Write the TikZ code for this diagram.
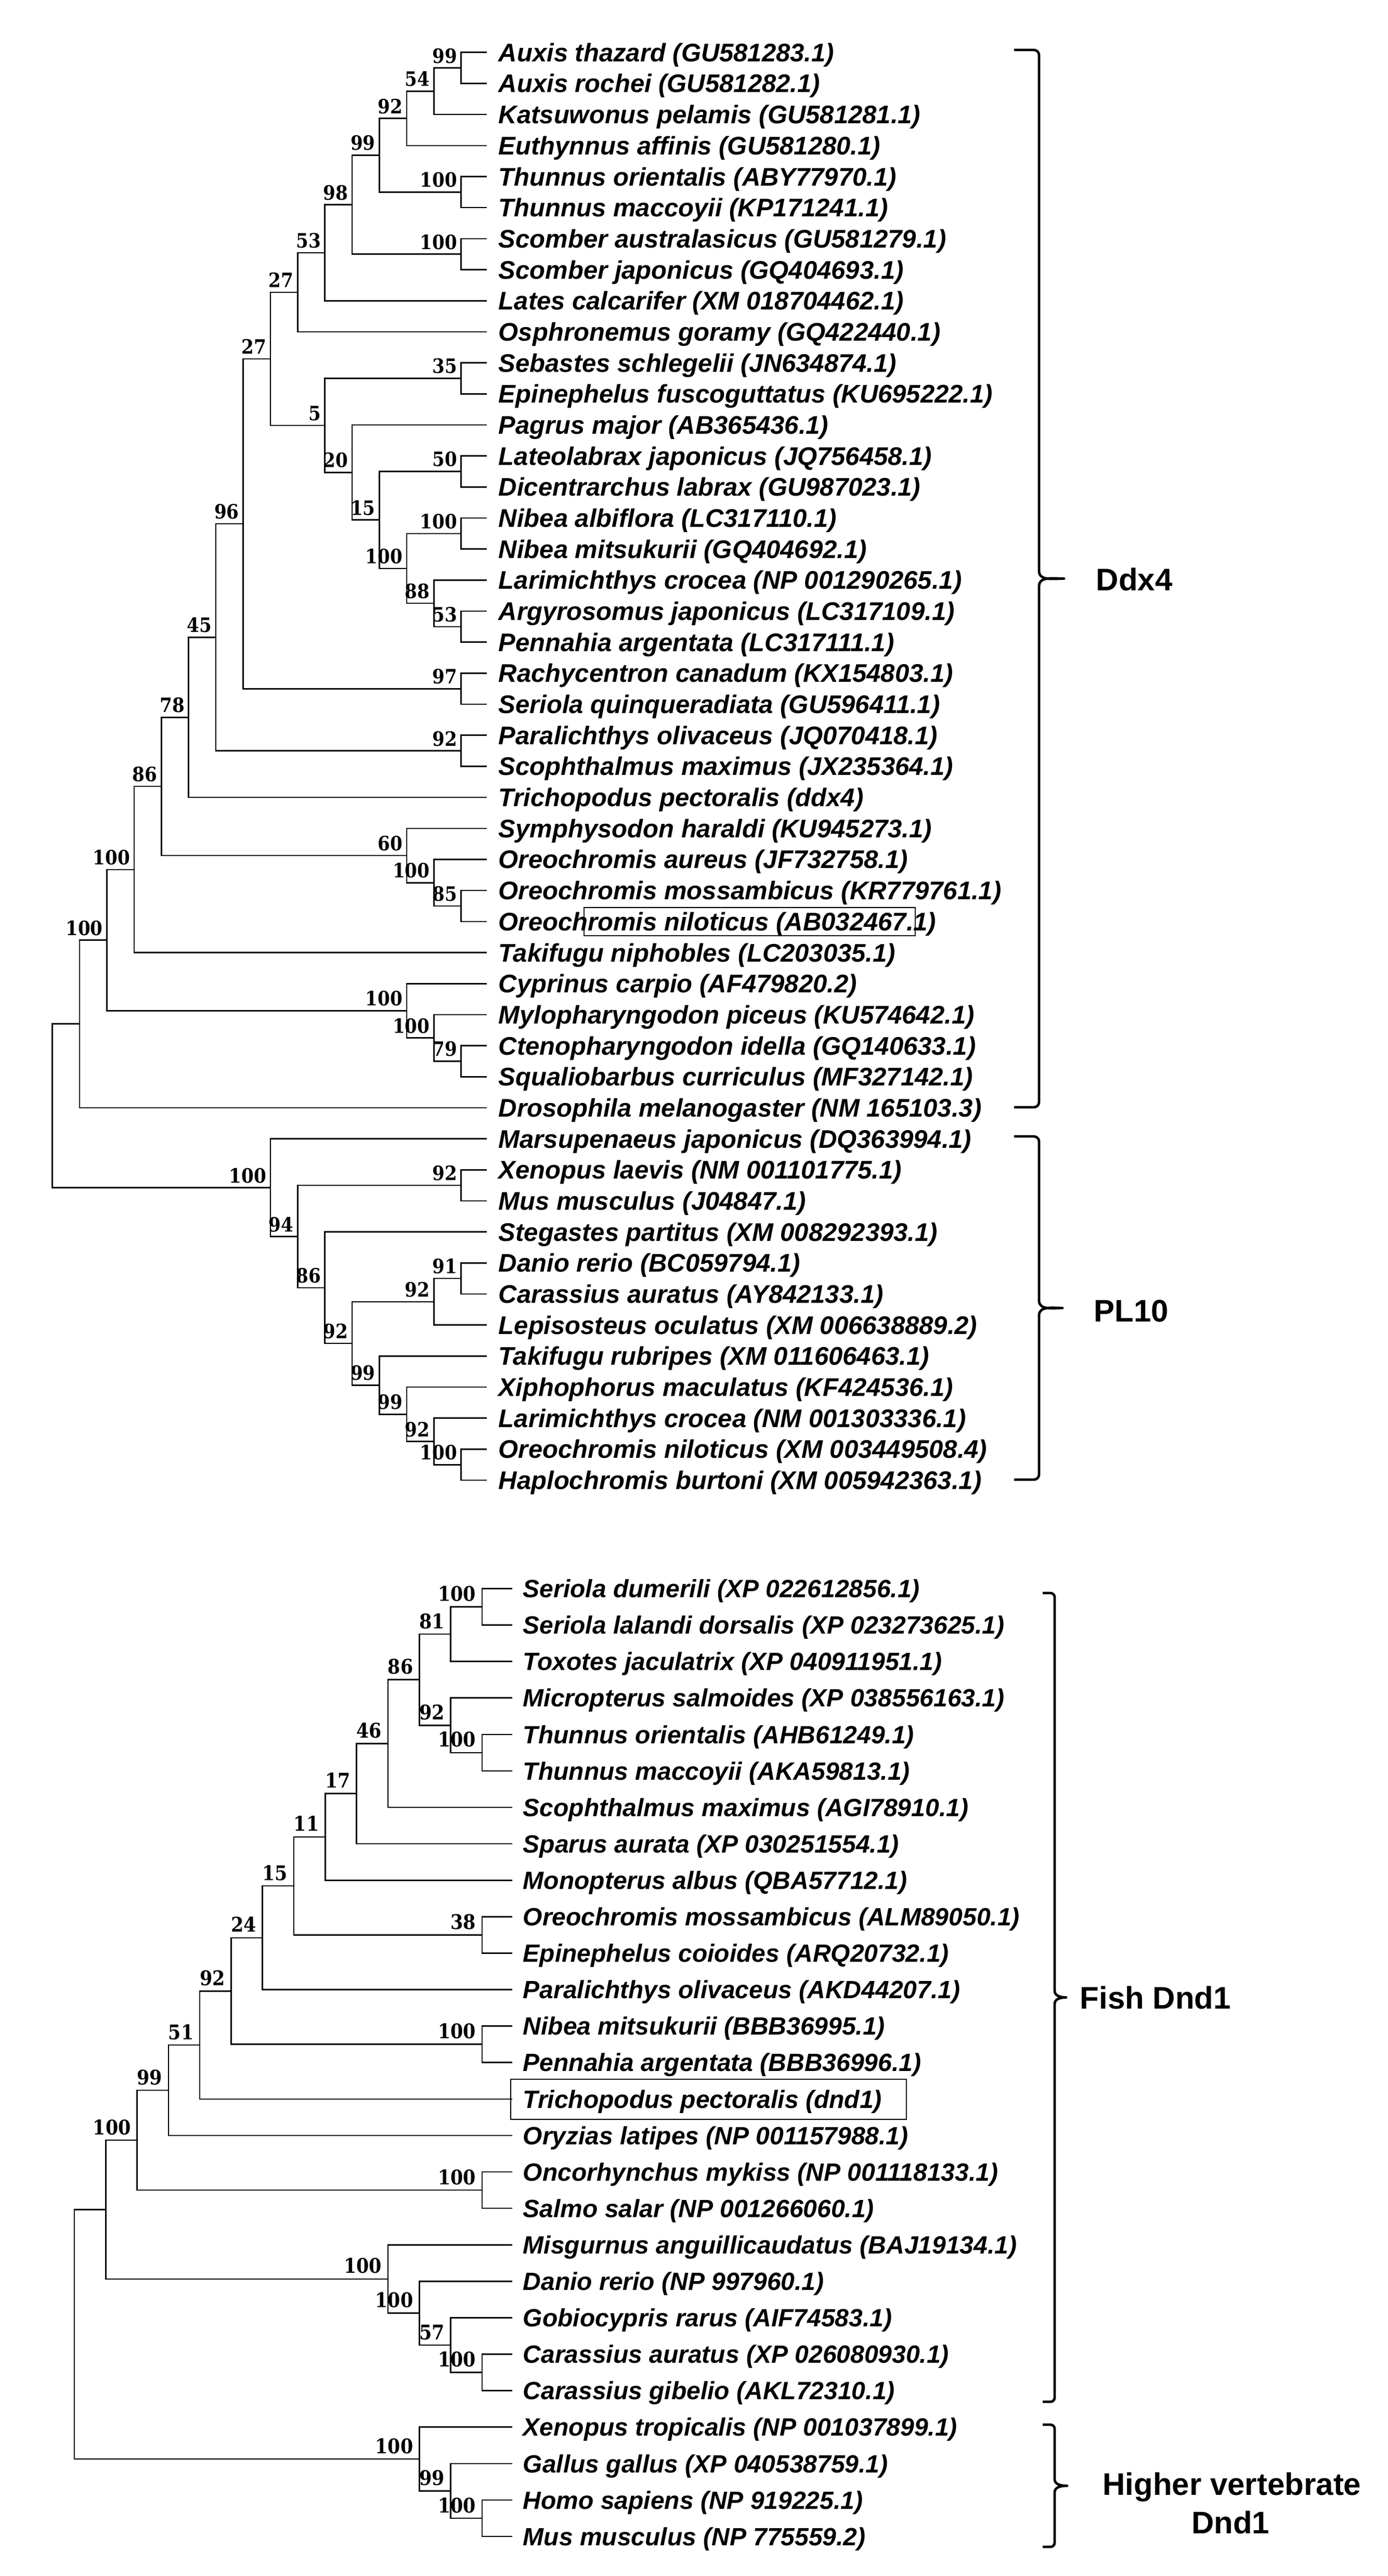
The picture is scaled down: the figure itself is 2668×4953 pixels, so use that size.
\documentclass[tikz,border=0pt]{standalone}
\usepackage{fontspec}
\setmainfont{Liberation Sans}
\newfontfamily\bsA[FakeStretch=0.9]{DejaVu Serif}
\begin{document}
\begin{tikzpicture}[x=0.25pt,y=-0.25pt,
  br/.style={line width=0.65pt,black},
  leafA/.style={font=\fontsize{12.25}{14}\selectfont\bfseries\itshape,inner sep=0pt,anchor=base west},
  leafB/.style={font=\fontsize{12}{14}\selectfont\bfseries\itshape,inner sep=0pt,anchor=base west},
  lblA/.style={font=\bsA\bfseries\fontsize{9.5}{11}\selectfont,inner sep=0pt,anchor=base east},
  lblB/.style={font=\bsA\bfseries\fontsize{9.7}{11}\selectfont,inner sep=0pt,anchor=base east},
  grp/.style={font=\bfseries\fontsize{15}{18}\selectfont,inner sep=0pt},
  bracel/.style={line width=1.2pt,line join=round},
  hbox/.style={line width=0.6pt}]
\useasboundingbox (0,0) rectangle (2668,4953);

% ---------------- Tree 1 (Ddx4 / PL10) ----------------
\foreach \i/\t in {0/{Auxis thazard (GU581283.1)},1/{Auxis rochei (GU581282.1)},2/{Katsuwonus pelamis (GU581281.1)},3/{Euthynnus affinis (GU581280.1)},4/{Thunnus orientalis (ABY77970.1)},5/{Thunnus maccoyii (KP171241.1)},6/{Scomber australasicus (GU581279.1)},7/{Scomber japonicus (GQ404693.1)},8/{Lates calcarifer (XM 018704462.1)},9/{Osphronemus goramy (GQ422440.1)},10/{Sebastes schlegelii (JN634874.1)},11/{Epinephelus fuscoguttatus (KU695222.1)},12/{Pagrus major (AB365436.1)},13/{Lateolabrax japonicus (JQ756458.1)},14/{Dicentrarchus labrax (GU987023.1)},15/{Nibea albiflora (LC317110.1)},16/{Nibea mitsukurii (GQ404692.1)},17/{Larimichthys crocea (NP 001290265.1)},18/{Argyrosomus japonicus (LC317109.1)},19/{Pennahia argentata (LC317111.1)},20/{Rachycentron canadum (KX154803.1)},21/{Seriola quinqueradiata (GU596411.1)},22/{Paralichthys olivaceus (JQ070418.1)},23/{Scophthalmus maximus (JX235364.1)},24/{Trichopodus pectoralis (ddx4)},25/{Symphysodon haraldi (KU945273.1)},26/{Oreochromis aureus (JF732758.1)},27/{Oreochromis mossambicus (KR779761.1)},28/{Oreochromis niloticus (AB032467.1)},29/{Takifugu niphobles (LC203035.1)},30/{Cyprinus carpio (AF479820.2)},31/{Mylopharyngodon piceus (KU574642.1)},32/{Ctenopharyngodon idella (GQ140633.1)},33/{Squaliobarbus curriculus (MF327142.1)},34/{Drosophila melanogaster (NM 165103.3)},35/{Marsupenaeus japonicus (DQ363994.1)},36/{Xenopus laevis (NM 001101775.1)},37/{Mus musculus (J04847.1)},38/{Stegastes partitus (XM 008292393.1)},39/{Danio rerio (BC059794.1)},40/{Carassius auratus (AY842133.1)},41/{Lepisosteus oculatus (XM 006638889.2)},42/{Takifugu rubripes (XM 011606463.1)},43/{Xiphophorus maculatus (KF424536.1)},44/{Larimichthys crocea (NM 001303336.1)},45/{Oreochromis niloticus (XM 003449508.4)},46/{Haplochromis burtoni (XM 005942363.1)}}{
  \coordinate (La\i) at (936,{100.8+59.68*\i});
  \node[leafA] (Ta\i) at (958,{118.3+59.68*\i}) {\t};
}
\foreach \n/\h/\k in {ua1/1/0.5,uA/2/1.25,uB/3/2.125,uth/1/4.5,uC/4/3.3125,usc/1/6.5,uD/5/4.90625,uE/6/6.453125,uF/7/7.7265625,uG/1/10.5,ult/1/13.5,unb/1/15.5,uar/1/18.5,ulr/2/17.75,uN/3/16.625,uH/4/15.0625,uI/5/13.53125,uJ/6/12.015625,uK/8/9.87109375,urc/1/20.5,uL/9/15.185546875,upa/1/22.5,uM/10/18.842773,uO/11/21.421387,uom/1/27.5,uoa/2/26.75,uoc/3/25.875,uP/12/23.648193,uQ/13/26.324097,uct/1/32.5,umy/2/31.75,ucy/3/30.875,uR/14/28.599548,uS/15/31.299774,upA/1/45.5,upB/2/44.75,upC/3/43.875,upD/4/42.9375,upE/1/39.5,upF/2/40.25,upG/5/41.59375,upH/6/39.796875,upI/1/36.5,upJ/7/38.148438,upK/8/36.574219,urt/16/33.936996}{
  \coordinate (\n) at ({886.6-52.4*(\h-1)},{100.8+59.68*\k});
}
\foreach \p/\c in {ua1/La0,ua1/La1,uA/ua1,uA/La2,uB/uA,uB/La3,uth/La4,uth/La5,uC/uB,uC/uth,usc/La6,usc/La7,uD/uC,uD/usc,uE/uD,uE/La8,uF/uE,uF/La9,uG/La10,uG/La11,ult/La13,ult/La14,unb/La15,unb/La16,uar/La18,uar/La19,ulr/La17,ulr/uar,uN/unb,uN/ulr,uH/ult,uH/uN,uI/La12,uI/uH,uJ/uG,uJ/uI,uK/uF,uK/uJ,urc/La20,urc/La21,uL/uK,uL/urc,upa/La22,upa/La23,uM/uL,uM/upa,uO/uM,uO/La24,uom/La27,uom/La28,uoa/La26,uoa/uom,uoc/La25,uoc/uoa,uP/uO,uP/uoc,uQ/uP,uQ/La29,uct/La32,uct/La33,umy/La31,umy/uct,ucy/La30,ucy/umy,uR/uQ,uR/ucy,uS/uR,uS/La34,upA/La45,upA/La46,upB/La44,upB/upA,upC/La43,upC/upB,upD/La42,upD/upC,upE/La39,upE/La40,upF/upE,upF/La41,upG/upF,upG/upD,upH/La38,upH/upG,upI/La36,upI/La37,upJ/upI,upJ/upH,upK/La35,upK/upJ,urt/uS,urt/upK}{
  \draw[br] (\p) |- (\c);
}
\foreach \n/\t in {ua1/99,uA/54,uB/92,uth/100,uC/99,usc/100,uD/98,uE/53,uF/27,uG/35,ult/50,unb/100,uar/53,ulr/88,uN/100,uH/15,uI/20,uJ/5,uK/27,urc/97,uL/96,upa/92,uM/45,uO/78,uom/85,uoa/100,uoc/60,uP/86,uQ/100,uct/79,umy/100,ucy/100,uR/100,upA/100,upB/92,upC/99,upD/99,upE/91,upF/92,upG/92,upH/86,upI/92,upJ/94,upK/100}{
  \node[lblA] (b\n) at ([shift={(-7,-9.5)}]\n) {\t};
}
\draw[hbox] (1123,1745) rectangle (1760,1799);

% braces tree 1
\draw[bracel] (1950,96) -- (1988,96) to[out=0,in=90] (1998,106) -- (1998,1098)
  to[out=-90,in=180] (2046,1112.5) to[out=180,in=90] (1998,1127) -- (1998,2119)
  to[out=-90,in=0] (1988,2129) -- (1950,2129);
\node[grp,anchor=west] (gddx) at (2107,1114) {Ddx4};
\draw[bracel] (1950,2185) -- (1988,2185) to[out=0,in=90] (1998,2195) -- (1998,2501)
  to[out=-90,in=180] (2043,2515) to[out=180,in=90] (1998,2529) -- (1998,2835)
  to[out=-90,in=0] (1988,2845) -- (1950,2845);
\node[grp,anchor=west] (gpl) at (2103,2521) {PL10};

% ---------------- Tree 2 (Dnd1) ----------------
\foreach \i/\t in {0/{Seriola dumerili (XP 022612856.1)},1/{Seriola lalandi dorsalis (XP 023273625.1)},2/{Toxotes jaculatrix (XP 040911951.1)},3/{Micropterus salmoides (XP 038556163.1)},4/{Thunnus orientalis (AHB61249.1)},5/{Thunnus maccoyii (AKA59813.1)},6/{Scophthalmus maximus (AGI78910.1)},7/{Sparus aurata (XP 030251554.1)},8/{Monopterus albus (QBA57712.1)},9/{Oreochromis mossambicus (ALM89050.1)},10/{Epinephelus coioides (ARQ20732.1)},11/{Paralichthys olivaceus (AKD44207.1)},12/{Nibea mitsukurii (BBB36995.1)},13/{Pennahia argentata (BBB36996.1)},14/{Trichopodus pectoralis (dnd1)},15/{Oryzias latipes (NP 001157988.1)},16/{Oncorhynchus mykiss (NP 001118133.1)},17/{Salmo salar (NP 001266060.1)},18/{Misgurnus anguillicaudatus (BAJ19134.1)},19/{Danio rerio (NP 997960.1)},20/{Gobiocypris rarus (AIF74583.1)},21/{Carassius auratus (XP 026080930.1)},22/{Carassius gibelio (AKL72310.1)},23/{Xenopus tropicalis (NP 001037899.1)},24/{Gallus gallus (XP 040538759.1)},25/{Homo sapiens (NP 919225.1)},26/{Mus musculus (NP 775559.2)}}{
  \coordinate (Lb\i) at (985,{3054.4+70.1*\i});
  \node[leafB] (Tb\i) at (1005,{3071.6+70.1*\i}) {\t};
}
\foreach \n/\h/\k in {va/1/0.5,vb/2/1.25,vc/1/4.5,vd/2/3.75,ve/3/2.5,vf/4/4.25,vg/5/5.625,vh/6/6.8125,vo/1/9.5,vi/7/8.15625,vj/8/9.578125,vnb/1/12.5,vk/9/11.0390625,vl/10/12.51953125,vm/11/13.759765625,von/1/16.5,vn/12/15.12988281,vp/1/21.5,vq/2/20.75,vr/3/19.875,vs/4/18.9375,vt/13/17.03369141,vu/1/25.5,vv/2/24.75,vw/3/23.875,vrt/14/20.4543457}{
  \coordinate (\n) at ({926.8-60.3*(\h-1)},{3054.4+70.1*\k});
}
\foreach \p/\c in {va/Lb0,va/Lb1,vb/va,vb/Lb2,vc/Lb4,vc/Lb5,vd/Lb3,vd/vc,ve/vb,ve/vd,vf/ve,vf/Lb6,vg/vf,vg/Lb7,vh/vg,vh/Lb8,vo/Lb9,vo/Lb10,vi/vh,vi/vo,vj/vi,vj/Lb11,vnb/Lb12,vnb/Lb13,vk/vj,vk/vnb,vl/vk,vl/Lb14,vm/vl,vm/Lb15,von/Lb16,von/Lb17,vn/vm,vn/von,vp/Lb21,vp/Lb22,vq/Lb20,vq/vp,vr/Lb19,vr/vq,vs/Lb18,vs/vr,vt/vn,vt/vs,vu/Lb25,vu/Lb26,vv/Lb24,vv/vu,vw/Lb23,vw/vv,vrt/vt,vrt/vw}{
  \draw[br] (\p) |- (\c);
}
\foreach \n/\t in {va/100,vb/81,vc/100,vd/92,ve/86,vf/46,vg/17,vh/11,vo/38,vi/15,vj/24,vnb/100,vk/92,vl/51,vm/99,von/100,vn/100,vp/100,vq/57,vr/100,vs/100,vu/100,vv/99,vw/100}{
  \node[lblB] (b\n) at ([shift={(-11,-11)}]\n) {\t};
}
\draw[hbox] (982,3998) rectangle (1743,4075);

% braces tree 2
\draw[bracel] (2005,3063) -- (2020,3063) to[out=0,in=90] (2028,3071) -- (2028,3828)
  to[out=-90,in=180] (2050,3840.5) to[out=180,in=90] (2028,3853) -- (2028,4610)
  to[out=-90,in=0] (2020,4618) -- (2005,4618);
\node[grp,anchor=west] (gfish) at (2076,3841) {Fish Dnd1};
\draw[bracel] (2005,4662) -- (2020,4662) to[out=0,in=90] (2028,4670) -- (2028,4767)
  to[out=-90,in=180] (2052,4779.5) to[out=180,in=90] (2028,4792) -- (2028,4889)
  to[out=-90,in=0] (2020,4897) -- (2005,4897);
\node[grp,anchor=base] (ghv1) at (2369,4797) {Higher vertebrate};
\node[grp,anchor=base] (ghv2) at (2366,4871) {Dnd1};
\end{tikzpicture}
\end{document}
